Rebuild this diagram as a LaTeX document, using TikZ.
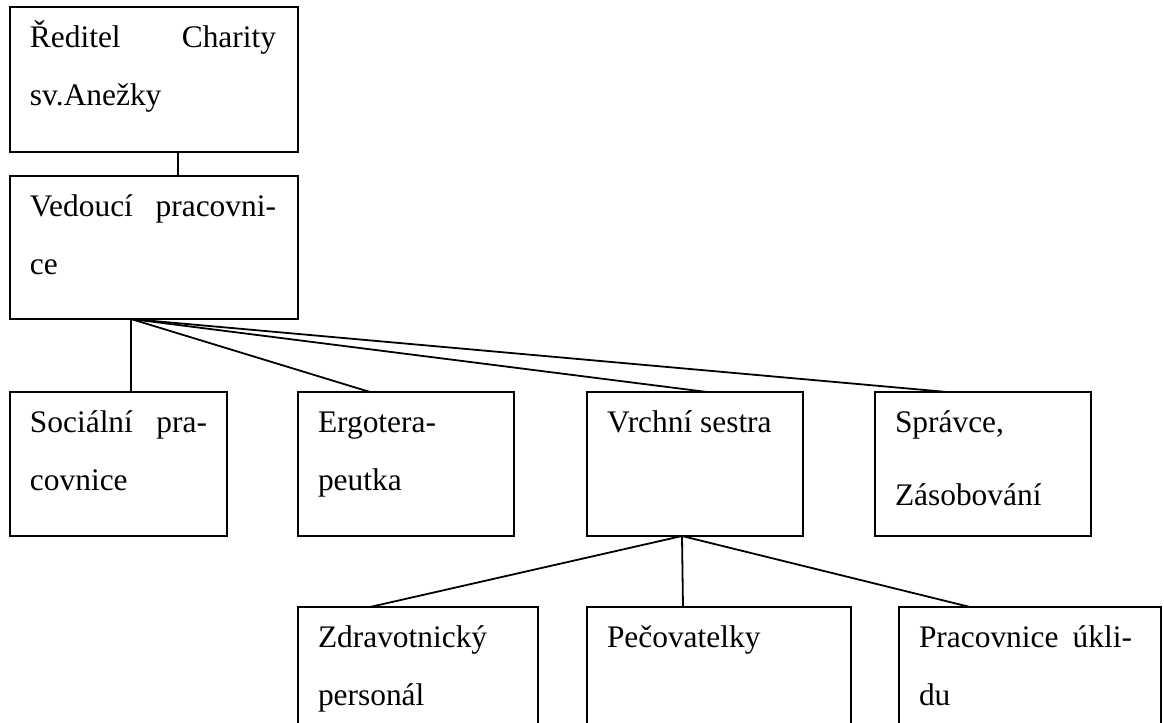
\documentclass[tikz,border=0pt]{standalone}
\usepackage{fontspec}
\setmainfont{Liberation Serif}
\usetikzlibrary{positioning}

% text block inside a box: box width, box height, text width, text
\newcommand{\orgcell}[4]{\makebox[#1][l]{\hspace{10pt}\parbox[t][#2][t]{#3}{\rule{0pt}{20pt}#4}}}

\tikzset{
  unit/.style={draw, rectangle, inner sep=0pt, outer sep=0pt, line width=0.9pt,
               font=\fontsize{15.7}{29}\selectfont},
  link/.style={line width=0.9pt}
}

\begin{document}
\begin{tikzpicture}
  \useasboundingbox (0,0) rectangle (582pt,-361.5pt);
  \clip (0,0) rectangle (582pt,-361.5pt);

  \node (reditel) [unit, anchor=north west] at (5pt,-3.5pt)
        {\orgcell{144pt}{72.5pt}{123pt}{Ředitel\hfill Charity\\sv.Anežky}};
  \node (vedouci) [unit, below=12pt of reditel.south west, anchor=north west]
        {\orgcell{144pt}{71.5pt}{123pt}{Vedoucí\hfill pracovni-\\ce}};

  % second level
  \node (socialni) [unit, below=36.5pt of vedouci.south west, anchor=north west]
        {\orgcell{108.5pt}{72pt}{88.5pt}{Sociální\hfill pra-\\covnice}};
  \node (ergo) [unit, right=35.5pt of socialni.north east, anchor=north west]
        {\orgcell{108pt}{72pt}{88pt}{Ergotera-\\peutka}};
  \node (vrchni) [unit, right=36.5pt of ergo.north east, anchor=north west]
        {\orgcell{108pt}{72pt}{88pt}{Vrchní sestra}};
  \node (spravce) [unit, right=36pt of vrchni.north east, anchor=north west]
        {\orgcell{108pt}{72pt}{88pt}{Správce,\\[7.5pt]Zásobování}};

  % third level
  \node (zdrav) [unit, below=35.5pt of ergo.south west, anchor=north west]
        {\orgcell{120pt}{72pt}{100pt}{Zdravotnický\\personál}};
  \node (pecov) [unit, below=35.5pt of vrchni.south west, anchor=north west]
        {\orgcell{132pt}{72pt}{112pt}{Pečovatelky}};
  \node (uklid) [unit, right=24pt of pecov.north east, anchor=north west]
        {\orgcell{131pt}{72pt}{106.5pt}{Pracovnice\hfill úkli-\\du}};

  \draw[link] ([xshift=84pt]reditel.south west) -- ([xshift=84pt]vedouci.north west);

  \draw[link] ([xshift=60.5pt]vedouci.south west) -- ([xshift=60.5pt]socialni.north west);
  \draw[link] ([xshift=60.5pt]vedouci.south west) -- ([xshift=36pt]ergo.north west);
  \draw[link] ([xshift=60.5pt]vedouci.south west) -- ([xshift=60pt]vrchni.north west);
  \draw[link] ([xshift=60.5pt]vedouci.south west) -- ([xshift=36pt]spravce.north west);

  \draw[link] ([xshift=47.5pt]vrchni.south west) -- ([xshift=36pt]zdrav.north west);
  \draw[link] ([xshift=47.5pt]vrchni.south west) -- ([xshift=48pt]pecov.north west);
  \draw[link] ([xshift=47.5pt]vrchni.south west) -- ([xshift=35.5pt]uklid.north west);
\end{tikzpicture}
\end{document}
